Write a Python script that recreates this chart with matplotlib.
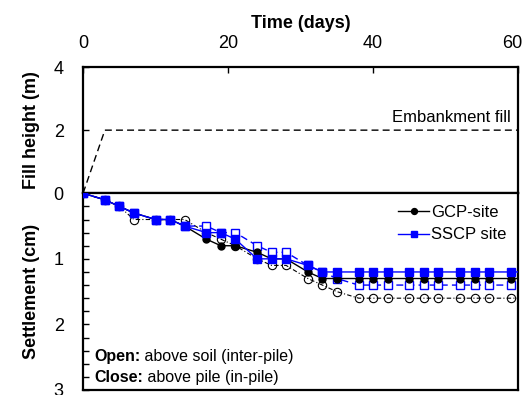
import numpy as np
import matplotlib
matplotlib.use("Agg")
import matplotlib.pyplot as plt
from matplotlib.ticker import MultipleLocator
from matplotlib.transforms import ScaledTranslation

plt.rcParams['font.family'] = ['Liberation Sans', 'DejaVu Sans']

# embankment fill
fill_days = [0, 3, 60]
fill_height = [0, 2, 2]

# settlement readings (cm)
days = [0, 3, 5, 7, 10, 12, 14, 17, 19, 21, 24, 26, 28, 31, 33, 35,
        38, 40, 42, 45, 47, 49, 52, 54, 56, 59, 61]
gcp_open = [0, 0.1, 0.2, 0.4, 0.4, 0.4, 0.4, 0.6, 0.7, 0.8, 1.0, 1.1, 1.1, 1.3, 1.4, 1.5,
            1.6, 1.6, 1.6, 1.6, 1.6, 1.6, 1.6, 1.6, 1.6, 1.6, 1.6]
gcp_close = [0, 0.1, 0.2, 0.3, 0.4, 0.4, 0.5, 0.7, 0.8, 0.8, 0.9, 1.0, 1.0, 1.2, 1.3, 1.3,
             1.3, 1.3, 1.3, 1.3, 1.3, 1.3, 1.3, 1.3, 1.3, 1.3, 1.3]
sscp_open = [0, 0.1, 0.2, 0.3, 0.4, 0.4, 0.5, 0.5, 0.6, 0.6, 0.8, 0.9, 0.9, 1.1, 1.2, 1.3,
             1.4, 1.4, 1.4, 1.4, 1.4, 1.4, 1.4, 1.4, 1.4, 1.4, 1.4]
sscp_close = [0, 0.1, 0.2, 0.3, 0.4, 0.4, 0.5, 0.6, 0.6, 0.7, 1.0, 1.0, 1.0, 1.1, 1.2, 1.2,
              1.2, 1.2, 1.2, 1.2, 1.2, 1.2, 1.2, 1.2, 1.2, 1.2, 1.2]

BLUE = "#0000ff"


def label_pair(ax, y, bold, rest):
    t = ax.text(0.025, y, bold, transform=ax.transAxes, fontsize=11.5,
                fontweight='bold', ha='left', va='baseline')
    ax.annotate(rest, xy=(1, 0), xycoords=t, ha='left', va='bottom', fontsize=11.5)


fig = plt.figure(figsize=(5.26, 3.95), dpi=100)
ax_top = fig.add_axes([0.158, 0.511, 0.827, 0.319])
ax_bot = fig.add_axes([0.158, 0.0127, 0.827, 0.498])

# --- top: fill height
ax_top.plot(fill_days, fill_height, color='black', linestyle=(0, (5, 3)), linewidth=1.0)
ax_top.text(59, 2.15, "Embankment fill", ha='right', va='bottom', fontsize=12)
ax_top.set_xlim(0, 60)
ax_top.set_ylim(0, 4)
ax_top.set_yticks([0, 2, 4])
ax_top.set_xticks([0, 20, 40, 60])
ax_top.xaxis.tick_top()
ax_top.xaxis.set_label_position('top')
ax_top.tick_params(axis='both', direction='in', labelsize=13, length=4, width=1)
ax_top.tick_params(axis='y', right=False, pad=14)
ax_top.tick_params(axis='x', pad=11)
ax_top.set_xlabel("Time (days)", fontsize=13, fontweight='bold', labelpad=5)
ax_top.set_ylabel("Fill height (m)", fontsize=13, fontweight='bold', labelpad=10)

# nudge the last time label so it stays inside the figure
last = ax_top.xaxis.get_majorticklabels()[-1]
last.set_transform(last.get_transform() + ScaledTranslation(-4 / 72, 0, fig.dpi_scale_trans))

# --- bottom: settlement
ax_bot.plot(days, gcp_open, color='black', linestyle=(0, (4, 2, 1, 2)), linewidth=0.8,
            marker='o', markersize=6, markerfacecolor='none', markeredgecolor='black',
            markeredgewidth=0.8, zorder=2)
ax_bot.plot(days, sscp_open, color=BLUE, linestyle=(0, (5, 3)), linewidth=1.0,
            marker='s', markersize=6, markerfacecolor='white', markeredgecolor=BLUE,
            markeredgewidth=1.0, zorder=3)
ax_bot.plot(days, gcp_close, color='black', linestyle='-', linewidth=1.0,
            marker='o', markersize=5, label='GCP-site', zorder=4)
ax_bot.plot(days, sscp_close, color=BLUE, linestyle='-', linewidth=1.0,
            marker='s', markersize=5.5, label='SSCP site', zorder=5)

ax_bot.set_xlim(0, 60)
ax_bot.set_ylim(3, 0)
ax_bot.set_yticks([0, 1, 2, 3])
ax_bot.set_yticklabels(['', '1', '2', '3'])
ax_bot.yaxis.set_minor_locator(MultipleLocator(0.2))
ax_bot.set_xticks([])
ax_bot.tick_params(axis='y', which='both', direction='in', labelsize=13, length=4, width=1, pad=14)
ax_bot.set_ylabel("Settlement (cm)", fontsize=13, fontweight='bold', labelpad=10)

ax_bot.legend(loc='upper right', frameon=False, fontsize=12, handlelength=1.9,
              handletextpad=0.1, labelspacing=0.45, borderaxespad=0.3,
              markerscale=0.85)

label_pair(ax_bot, 0.145, "Open:", " above soil (inter-pile)")
label_pair(ax_bot, 0.04, "Close:", " above pile (in-pile)")

for ax in (ax_top, ax_bot):
    for sp in ax.spines.values():
        sp.set_linewidth(1.6)

fig.savefig("out.png", dpi=100)
